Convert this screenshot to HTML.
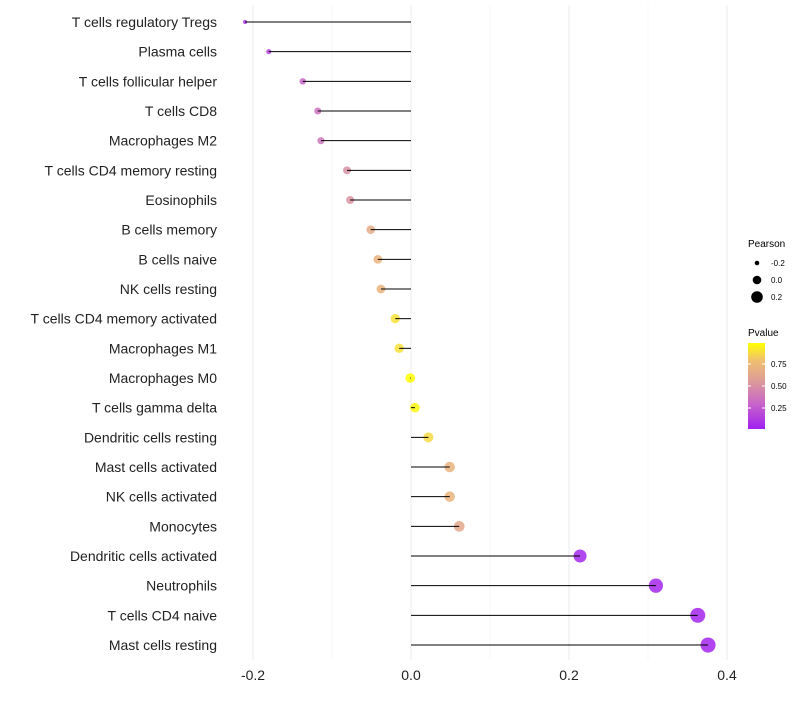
<!DOCTYPE html>
<html><head><meta charset="utf-8"><style>
body{margin:0;background:#fff;font-family:"Liberation Sans",sans-serif}
svg text{font-family:"Liberation Sans",sans-serif}
</style></head><body>
<svg id="chart" width="800" height="700">
<defs><linearGradient id="pg" x1="0" y1="1" x2="0" y2="0">
<stop offset="0" stop-color="#A020F0"/><stop offset="0.3" stop-color="#C966C8"/>
<stop offset="0.55" stop-color="#DC9A9A"/><stop offset="0.8" stop-color="#F0C070"/>
<stop offset="1" stop-color="#FFFF00"/></linearGradient></defs>
<g id="grid"></g><g id="dots"></g><g id="stems"></g><g id="ylabels"></g><g id="xlabels"></g>
<g>
<text x="748" y="247" font-size="10">Pearson</text>
<circle cx="757" cy="263" r="2.3" fill="#000"/>
<text x="771" y="266" font-size="8">-0.2</text>
<circle cx="757" cy="280" r="4.3" fill="#000"/>
<text x="771" y="283" font-size="8">0.0</text>
<circle cx="757" cy="297" r="5.8" fill="#000"/>
<text x="771" y="300" font-size="8">0.2</text>
<text x="748" y="336" font-size="10">Pvalue</text>
<rect x="748" y="343" width="17" height="86" fill="url(#pg)"/>
<line x1="748" x2="751" y1="364" y2="364" stroke="#fff"/><line x1="762" x2="765" y1="364" y2="364" stroke="#fff"/>
<line x1="748" x2="751" y1="386" y2="386" stroke="#fff"/><line x1="762" x2="765" y1="386" y2="386" stroke="#fff"/>
<line x1="748" x2="751" y1="408" y2="408" stroke="#fff"/><line x1="762" x2="765" y1="408" y2="408" stroke="#fff"/>
<text x="771" y="367" font-size="8">0.75</text>
<text x="771" y="389" font-size="8">0.50</text>
<text x="771" y="411" font-size="8">0.25</text>
</g>
</svg>
<script>
const categories=["T cells regulatory  Tregs","Plasma cells","T cells follicular helper","T cells CD8","Macrophages M2","T cells CD4 memory resting","Eosinophils","B cells memory","B cells naive","NK cells resting","T cells CD4 memory activated","Macrophages M1","Macrophages M0","T cells gamma delta","Dendritic cells resting","Mast cells activated","NK cells activated","Monocytes","Dendritic cells activated","Neutrophils","T cells CD4 naive","Mast cells resting"];
const pearson=[-0.21,-0.18,-0.137,-0.118,-0.114,-0.081,-0.077,-0.051,-0.042,-0.038,-0.02,-0.015,-0.001,0.005,0.022,0.049,0.049,0.061,0.214,0.31,0.363,0.376];
const pvalues=[0.06,0.15,0.3,0.36,0.37,0.5,0.52,0.67,0.72,0.72,0.9,0.9,1.0,0.97,0.88,0.72,0.72,0.64,0.04,0.03,0.02,0.02];
const xTicks=[-0.2,0.0,0.2,0.4];
const xTickLabels=["-0.2","0.0","0.2","0.4"];
const minorTicks=[-0.1,0.1,0.3];
const NS="http://www.w3.org/2000/svg";
const xs=v=>411+v*790;
const ys=i=>22+i*(623/21);
const rs=v=>Math.sqrt(Math.max(1,23+90*v));
const stops=[[0,[160,32,240]],[0.3,[201,102,200]],[0.55,[220,154,154]],[0.8,[240,192,112]],[1,[255,255,0]]];
function col(p){for(let i=1;i<stops.length;i++){if(p<=stops[i][0]){const a=stops[i-1],b=stops[i],t=(p-a[0])/(b[0]-a[0]);return "rgb("+a[1].map((c,k)=>Math.round(c+(b[1][k]-c)*t)).join(",")+")";}}return "rgb(255,255,0)";}
function mk(t,attrs,parent){const e=document.createElementNS(NS,t);for(const k in attrs)e.setAttribute(k,attrs[k]);document.getElementById(parent).appendChild(e);return e;}
minorTicks.forEach(v=>{const l=mk("line",{x1:xs(v),x2:xs(v),y1:5,y2:660,stroke:"#f2f2f2","stroke-width":0.6},"grid");

});
xTicks.forEach((v,i)=>{const l=mk("line",{x1:xs(v),x2:xs(v),y1:5,y2:660,stroke:"#ebebeb","stroke-width":1},"grid");


const t=mk("text",{x:xs(v),y:680,"font-size":14,"text-anchor":"middle",fill:"#222"},"xlabels");t.textContent=xTickLabels[i];

});
categories.forEach((c,i)=>{const y=ys(i);
const t=mk("text",{x:217,y:y+5,"font-size":14,"text-anchor":"end",fill:"#222","xml:space":"preserve"},"ylabels");t.textContent=c;


const d=mk("circle",{cx:xs(pearson[i]),cy:y,r:rs(pearson[i]),fill:col(pvalues[i]),"fill-opacity":0.85},"dots");


const l=mk("line",{x1:xs(0),x2:xs(pearson[i]),y1:y,y2:y,stroke:"#000","stroke-width":1},"stems");

});
</script>
</body></html>
